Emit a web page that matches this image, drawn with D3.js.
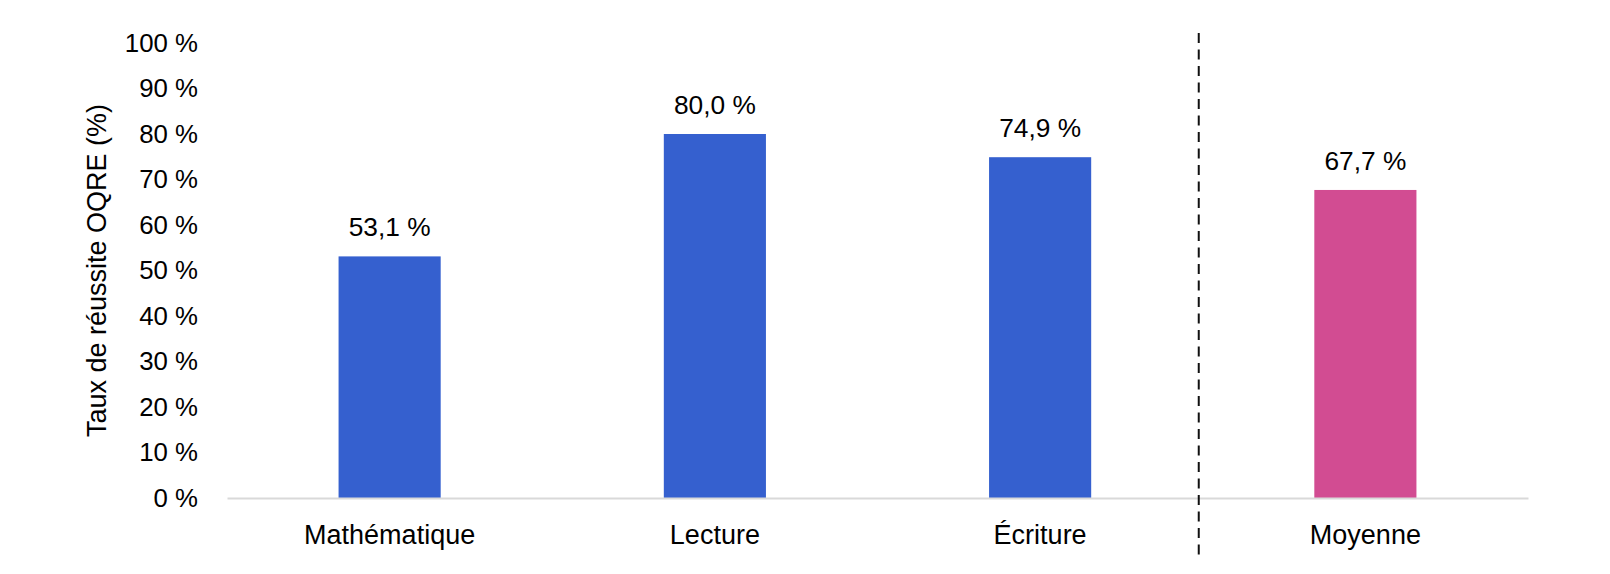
<!DOCTYPE html>
<html>
<head>
<meta charset="utf-8">
<script src="https://cdn.jsdelivr.net/npm/d3@7"></script>
<style>
  html, body { margin: 0; padding: 0; background: #fff; }
  svg { display: block; font-family: "Liberation Sans", Arial, sans-serif; }
</style>
</head>
<body>
<svg id="chart" width="1610" height="574"></svg>
<script>
// ---- Data ----
const categories = ["Mathématique", "Lecture", "Écriture", "Moyenne"];
const values = [53.1, 80.0, 74.9, 67.7];
const yTicks = [0, 10, 20, 30, 40, 50, 60, 70, 80, 90, 100];
const yTitle = "Taux de réussite OQRE (%)";
const averageCategory = "Moyenne";

// ---- Styles ----
const blue = "#3560cf";
const pink = "#d24c92";
const tickFont = 25.8;
const valueFont = 26.3;
const catFont = 27;
const titleFont = 27;

const svg = d3.select("#chart");
const margin = { left: 227, right: 82, top: 43, bottom: 76 };
const W = 1610, H = 574;

const x = d3.scaleBand()
  .domain(categories)
  .range([margin.left, W - margin.right])
  .paddingInner(0.686)
  .paddingOuter(0.343);

const y = d3.scaleLinear()
  .domain([0, 100])
  .range([H - margin.bottom, margin.top]);

const fr = d3.formatLocale({ decimal: ",", thousands: " ", grouping: [3], currency: ["", " €"] });
const fmt1 = fr.format(".1f");

// y axis (labels only)
const yAxis = svg.append("g")
  .attr("transform", `translate(${margin.left},0)`)
  .call(d3.axisLeft(y).tickValues(yTicks).tickSize(0).tickPadding(29).tickFormat(d => d + " %"));
yAxis.select(".domain").remove();
yAxis.selectAll("text")
  .attr("font-size", tickFont)
  .attr("font-family", "Liberation Sans, Arial, sans-serif")
  .attr("fill", "#000");

// y title
svg.append("text")
  .attr("transform", `translate(97,${(y(0) + y(100)) / 2}) rotate(-90)`)
  .attr("text-anchor", "middle")
  .attr("dominant-baseline", "central")
  .attr("font-size", titleFont)
  .attr("fill", "#000")
  .text(yTitle);

// bars
svg.append("g").selectAll("rect")
  .data(categories)
  .join("rect")
  .attr("x", d => x(d))
  .attr("width", x.bandwidth())
  .attr("y", (d, i) => y(values[i]))
  .attr("height", (d, i) => y(0) - y(values[i]))
  .attr("fill", d => d === averageCategory ? pink : blue);

// value labels
svg.append("g").selectAll("text")
  .data(categories)
  .join("text")
  .attr("x", d => x(d) + x.bandwidth() / 2)
  .attr("y", (d, i) => y(values[i]) - 20)
  .attr("text-anchor", "middle")
  .attr("font-size", valueFont)
  .attr("fill", "#000")
  .text((d, i) => fmt1(values[i]) + " %");

// x axis
const xAxis = svg.append("g")
  .attr("transform", `translate(0,${y(0)})`)
  .call(d3.axisBottom(x).tickSize(0).tickPadding(27));
xAxis.select(".domain").attr("stroke", "#d9d9d9").attr("stroke-width", 2);
xAxis.selectAll("text")
  .attr("font-size", catFont)
  .attr("font-family", "Liberation Sans, Arial, sans-serif")
  .attr("fill", "#000");

// dashed separator before the average
const iAvg = categories.indexOf(averageCategory);
const sepX = (x(categories[iAvg - 1]) + x.bandwidth() + x(averageCategory)) / 2 - 4;
svg.append("line")
  .attr("x1", sepX).attr("x2", sepX)
  .attr("y1", 33).attr("y2", 560)
  .attr("stroke", "#111")
  .attr("stroke-width", 2)
  .attr("stroke-dasharray", "10,6.5");
</script>
</body>
</html>
